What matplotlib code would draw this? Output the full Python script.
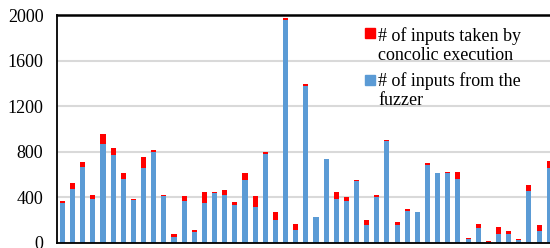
import numpy as np
import matplotlib.pyplot as plt
from matplotlib.patches import Rectangle

# values (one bar per program run)
fuzzer = [345, 474, 668, 384, 870, 767, 562, 378, 653, 796,
          413, 53, 369, 91, 351, 439, 419, 331, 550, 316,
          776, 199, 1959, 114, 1382, 225, 732, 387, 369, 545,
          152, 404, 896, 152, 281, 266, 685, 609, 615, 556,
          35, 129, 6, 76, 79, 20, 457, 105, 659]
concolic = [24, 47, 44, 35, 85, 70, 50, 3, 105, 21,
            6, 23, 44, 23, 97, 9, 44, 23, 62, 97,
            23, 70, 18, 50, 15, 3, 6, 61, 35, 8,
            44, 18, 9, 27, 18, 6, 15, 6, 9, 68,
            9, 35, 12, 65, 21, 12, 53, 50, 61]
yticks = [0, 400, 800, 1200, 1600, 2000]

label_red = ["# of inputs taken by", "concolic execution"]
label_blue = ["# of inputs from the", "fuzzer"]

blue = "#5B9BD5"
red = "#FF0000"

plt.rcParams['font.family'] = ['Liberation Serif', 'DejaVu Serif']

fig = plt.figure(figsize=(5.5, 2.48), dpi=100)
ax = fig.add_axes([57.3 / 550, 5.3 / 248, 1 - 57.3 / 550, (242.7 - 15.3) / 248])

x = np.arange(len(fuzzer))
ax.bar(x, fuzzer, width=0.5, color=blue, zorder=2)
ax.bar(x, concolic, width=0.5, bottom=fuzzer, color=red, zorder=2)

ax.set_xlim(-0.51, 48.08)
ax.set_ylim(0, 2000)
ax.set_yticks(yticks)
ax.set_yticklabels([str(v) for v in yticks], fontsize=13)
ax.set_xticks([])
ax.tick_params(axis='y', length=0, pad=10)

ax.yaxis.grid(True, color="#D9D9D9", linewidth=1.5)
ax.set_axisbelow(True)
for side in ['left', 'bottom']:
    ax.spines[side].set_color('black')
    ax.spines[side].set_linewidth(1.3)
ax.spines['top'].set_color('black')
ax.spines['top'].set_linewidth(1.8)
ax.spines['right'].set_visible(False)

# legend drawn by hand so the swatch sits on the first line
W, H = 550.0, 248.0
for col, lines, top, base in [(red, label_red, 28, 41), (blue, label_blue, 75, 85.5)]:
    fig.patches.append(Rectangle((365 / W, 1 - (top + 10) / H), 10 / W, 10 / H,
                                 transform=fig.transFigure, color=col))
    for i, s in enumerate(lines):
        fig.text(378 / W, 1 - (base + 19.5 * i) / H, s, fontsize=13,
                 va='baseline', ha='left')

fig.savefig("out.png", dpi=100)
